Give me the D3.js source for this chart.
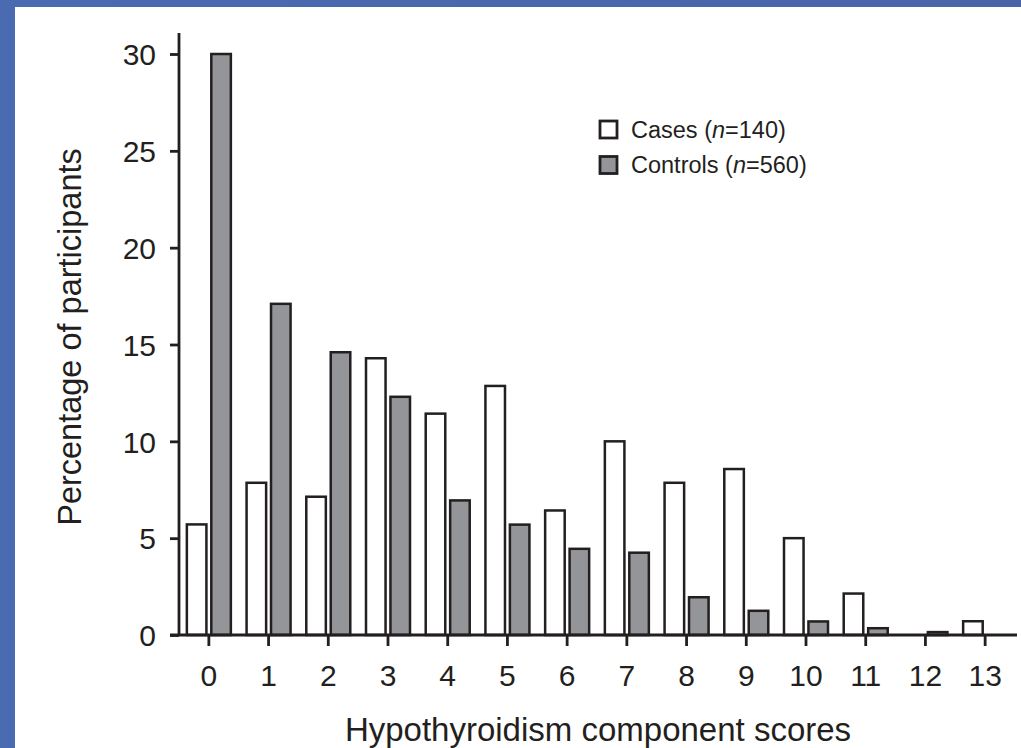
<!DOCTYPE html>
<html>
<head>
<meta charset="utf-8">
<script src="https://cdn.jsdelivr.net/npm/d3@7"></script>
<style>
  html, body { margin: 0; padding: 0; }
  body { width: 1021px; height: 748px; overflow: hidden; background: #4a68ae; }
  svg { display: block; font-family: "Liberation Sans", Arial, sans-serif; }
</style>
</head>
<body>
<svg id="chart" width="1021" height="748"></svg>
<script>
// data (percent of participants)
var scores = ["0", "1", "2", "3", "4", "5", "6", "7", "8", "9", "10", "11", "12", "13"];
var cases = [5.71, 7.86, 7.14, 14.29, 11.43, 12.86, 6.43, 10.0, 7.86, 8.57, 5.0, 2.14, 0, 0.71];
var controls = [30.0, 17.1, 14.6, 12.3, 6.95, 5.7, 4.45, 4.25, 1.95, 1.25, 0.7, 0.35, 0.15, 0];
var yTicks = [0, 5, 10, 15, 20, 25, 30];
var seriesNames = ["Cases", "Controls"];
var seriesN = [140, 560];

var ink = "#231f20", grey = "#939598";
var font = '"Liberation Sans", Arial, sans-serif';

var svg = d3.select("#chart");

// blue slide frame with white panel
var defs = svg.append("defs");
var grad = defs.append("linearGradient").attr("id", "frame")
    .attr("x1", 0).attr("y1", 0).attr("x2", 1).attr("y2", 0);
grad.append("stop").attr("offset", 0).attr("stop-color", "#4a6ab2");
grad.append("stop").attr("offset", 1).attr("stop-color", "#4a64a8");
svg.append("rect").attr("width", 1021).attr("height", 748).attr("fill", "url(#frame)");
svg.append("rect").attr("x", 15).attr("y", 7).attr("width", 1006).attr("height", 741).attr("fill", "#fff");

var x = d3.scaleBand().domain(scores).range([179, 1015]).padding(0);
var sub = d3.scaleBand().domain(seriesNames).range([-22, 22]).paddingInner(0.2);
var y = d3.scaleLinear().domain([0, 30]).range([635, 54]);

var rows = scores.map(function (s, i) {
    return { score: s, values: [cases[i], controls[i]] };
});

//  Bars ---
var group = svg.append("g").selectAll("g").data(rows).enter().append("g")
    .attr("transform", function (d) { return "translate(" + (x(d.score) + x.bandwidth() / 2) + ",0)"; });

group.selectAll("rect")
    .data(function (d) { return d.values.map(function (v, i) { return { name: seriesNames[i], value: v }; }); })
    .enter().filter(function (d) { return d.value > 0; }).append("rect")
    .attr("x", function (d) { return sub(d.name); })
    .attr("width", sub.bandwidth())
    .attr("y", function (d) { return y(d.value); })
    .attr("height", function (d) { return y(0) - y(d.value); })
    .attr("fill", function (d) { return d.name === "Cases" ? "#fff" : grey; })
    .attr("stroke", ink)
    .attr("stroke-width", 2.5);

//  Axes ---
var yAxis = svg.append("g").attr("transform", "translate(179,0)")
    .call(d3.axisLeft(y).tickValues(yTicks).tickSize(9).tickPadding(14));
yAxis.select(".domain").remove();
yAxis.append("line").attr("x1", 0).attr("x2", 0).attr("y1", y(31.08)).attr("y2", y(0))
    .attr("stroke", ink).attr("stroke-width", 2.8);

var xAxis = svg.append("g").attr("transform", "translate(0,635)")
    .call(d3.axisBottom(x).tickSize(11).tickPadding(20));
xAxis.select(".domain").remove();
xAxis.append("line").attr("x1", 170).attr("x2", 1017).attr("y1", 0).attr("y2", 0)
    .attr("stroke", ink).attr("stroke-width", 2.8);

svg.selectAll(".tick line").attr("stroke", ink).attr("stroke-width", 2.8);
svg.selectAll(".tick text").attr("fill", ink)
    .style("font-family", font).style("font-size", "30px");
yAxis.selectAll(".tick text").attr("dy", "0.36em");
xAxis.selectAll(".tick text").attr("dy", "0.68em");

//  Titles ---
svg.append("text")
    .attr("x", 598).attr("y", 741)
    .attr("text-anchor", "middle").attr("fill", ink).style("font-size", "33px")
    .text("Hypothyroidism component scores");

svg.append("text")
    .attr("transform", "translate(81,337) rotate(-90)")
    .attr("text-anchor", "middle").attr("fill", ink).style("font-size", "32.5px")
    .text("Percentage of participants");

//  Legend ---
var legend = svg.append("g").selectAll("g").data(seriesNames).enter().append("g")
    .attr("transform", function (d, i) { return "translate(600," + (121 + i * 35.5) + ")"; });
legend.append("rect")
    .attr("width", 17).attr("height", 17)
    .attr("fill", function (d) { return d === "Cases" ? "#fff" : grey; })
    .attr("stroke", ink).attr("stroke-width", 2.8);
var lt = legend.append("text")
    .attr("x", 31).attr("y", 8.5).attr("dy", "0.36em")
    .attr("fill", ink).style("font-size", "23.5px");
lt.append("tspan").text(function (d) { return d + " ("; });
lt.append("tspan").style("font-style", "italic").text("n");
lt.append("tspan").text(function (d, i) { return "=" + seriesN[i] + ")"; });
</script>
</body>
</html>
